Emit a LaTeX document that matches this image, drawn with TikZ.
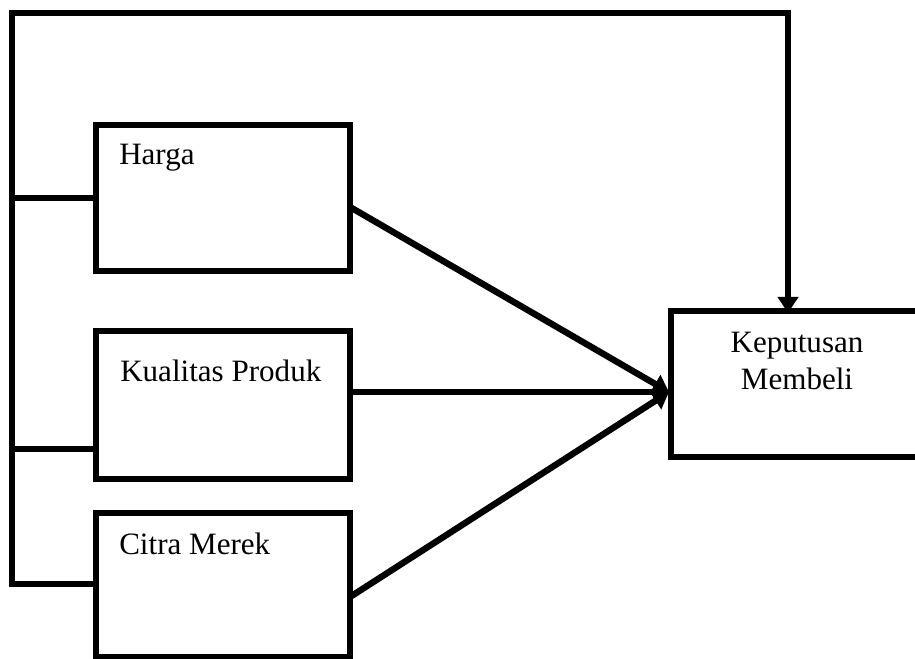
\documentclass[tikz,border=0pt]{standalone}
\usepackage{fontspec}
\setmainfont{Liberation Serif}
\usetikzlibrary{arrows.meta}
\begin{document}
\begin{tikzpicture}[x=0.75pt,y=-0.75pt,
  thick line/.style={line width=4.8pt,line join=miter,line cap=rect},
  boxnode/.style={draw,line width=4.8pt,rectangle,inner sep=0pt,outer sep=0pt},
  txt/.style={font=\fontsize{23.3}{28}\selectfont,inner sep=0pt,anchor=base west},
  arr/.style={line width=4.8pt,-{Triangle[length=12pt,width=15pt]}}]
\clip (0,0) rectangle (915,659);
% boxes
\node[boxnode,minimum width=254*0.75pt,minimum height=146*0.75pt] (harga) at (223,198) {};
\node[boxnode,minimum width=254*0.75pt,minimum height=148*0.75pt] (kual) at (223,405) {};
\node[boxnode,minimum width=254*0.75pt,minimum height=144*0.75pt] (citra) at (223,585) {};
\node[boxnode,minimum width=254*0.75pt,minimum height=146*0.75pt] (kep) at (798,384) {};
% texts
\node[txt] (tharga) at (119,165) {Harga};
\node[txt] (tkual) at (120,382) {Kualitas Produk};
\node[txt] (tcitra) at (119,555) {Citra Merek};
\node[font=\fontsize{23.3}{28}\selectfont,inner sep=0pt,anchor=base,align=center] (tkep1) at (797,353) {Keputusan};
\node[font=\fontsize{23.3}{28}\selectfont,inner sep=0pt,anchor=base,align=center] (tkep2) at (797,390) {Membeli};
% spine coordinates
\coordinate (sbot) at (12,584);
\coordinate (stop) at (12,13);
\coordinate (rtop) at (788,13);
\coordinate (b1) at (12,198);
\coordinate (b2) at (12,449);
\coordinate (hk) at (kual.west |- b2);
\coordinate (hc) at (citra.west |- sbot);
\coordinate (kin) at (kep.north -| rtop);
\coordinate (ha) at (350,207);
\coordinate (ca) at (350,597);
\coordinate (tip) at (669,392);
% feedback line
\draw[thick line] (hc) -- (sbot) -- (stop) -- (rtop) -- ([yshift=6pt]kin);
\draw[arr] ([yshift=6pt]kin) -- ([yshift=-1.5pt]kin);
% branches
\draw[thick line,line cap=butt] (b1) -- (harga.west);
\draw[thick line,line cap=butt] (b2) -- (hk);
% arrows
\draw[arr] (ha) -- (tip);
\draw[arr] (kual.east |- tip) -- (tip);
\draw[arr] (ca) -- (tip);
\end{tikzpicture}
\end{document}
